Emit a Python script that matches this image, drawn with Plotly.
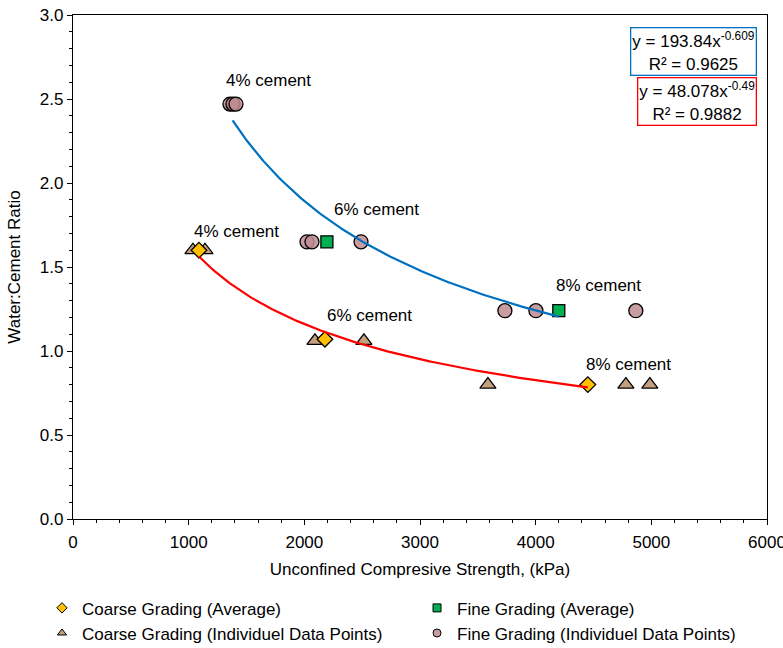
import numpy as np
import plotly.graph_objects as go

# Coarse grading
coarse_avg_x = [1089, 2178, 4451]
coarse_avg_y = [1.60, 1.07, 0.80]
coarse_ind_x = [1037, 1141, 2092, 2515, 3587, 4780, 4987]
coarse_ind_y = [1.60, 1.60, 1.06, 1.06, 0.80, 0.80, 0.80]

# Fine grading
fine_avg_x = [1380, 2195, 4200]
fine_avg_y = [2.47, 1.65, 1.24]
fine_ind_x = [1357, 1383, 1409, 2023, 2066, 2490, 3734, 4002, 4866]
fine_ind_y = [2.47, 2.47, 2.47, 1.65, 1.65, 1.65, 1.24, 1.24, 1.24]

# Power-law trendlines (y = a * x^b) fitted to the averages
fine_fit = (193.84, -0.609, 0.9625)
coarse_fit = (48.078, -0.49, 0.9882)

labels = ["4% cement", "6% cement", "8% cement"]
fine_label_pos = [(1690, 2.61), (2620, 1.845), (4540, 1.39)]
coarse_label_pos = [(1410, 1.71), (2560, 1.21), (4805, 0.92)]

FONT = "Liberation Sans, Arial, sans-serif"
FS = 17
C_DIAMOND = "#FFC000"
C_SQUARE = "#00B050"
C_TRI = "#C4A07F"
C_CIRC = "rgba(190,140,145,0.85)"

fig = go.Figure()

def trend(xs, fit):
    a, b, _ = fit
    xx = np.linspace(min(xs), max(xs), 200)
    return xx, a * xx ** b

fx, fy = trend(fine_avg_x, fine_fit)
cx, cy = trend(coarse_avg_x, coarse_fit)

line_w = dict(width=2.2)
fig.add_trace(go.Scatter(x=fine_avg_x, y=fine_avg_y, mode="markers", showlegend=False,
                         marker=dict(symbol="square", size=12, color=C_SQUARE,
                                     line=dict(color="black", width=1.3))))
fig.add_trace(go.Scatter(x=coarse_ind_x, y=coarse_ind_y, mode="markers", showlegend=False,
                         marker=dict(symbol="triangle-up", size=14, color=C_TRI,
                                     line=dict(color="black", width=1.3))))
fig.add_trace(go.Scatter(x=coarse_avg_x, y=coarse_avg_y, mode="markers", showlegend=False,
                         marker=dict(symbol="diamond", size=12, color=C_DIAMOND,
                                     line=dict(color="black", width=1.3))))
fig.add_trace(go.Scatter(x=fine_ind_x, y=fine_ind_y, mode="markers", showlegend=False,
                         marker=dict(symbol="circle", size=14, color=C_CIRC,
                                     line=dict(color="black", width=1.3))))
fig.add_trace(go.Scatter(x=fx, y=fy, mode="lines", showlegend=False,
                         line=dict(color="#0070C0", **line_w), hoverinfo="skip"))
fig.add_trace(go.Scatter(x=cx, y=cy, mode="lines", showlegend=False,
                         line=dict(color="#FF0000", **line_w), hoverinfo="skip"))

# Legend entries: coarse grading in the left column, fine grading in the right
legend_items = [
    ("Coarse Grading (Average)", "diamond", C_DIAMOND, "legend"),
    ("Coarse Grading (Individuel Data Points)", "triangle-up", C_TRI, "legend"),
    ("Fine Grading (Average)", "square", C_SQUARE, "legend2"),
    ("Fine Grading (Individuel Data Points)", "circle", C_CIRC, "legend2"),
]
for name, sym, col, leg in legend_items:
    fig.add_trace(go.Scatter(x=[None], y=[None], mode="markers", name=name, legend=leg,
                             marker=dict(symbol=sym, size=8, color=col,
                                         line=dict(color="black", width=1))))

annotations = []
for txt, (x, y) in zip(labels, fine_label_pos):
    annotations.append(dict(x=x, y=y, text=txt, showarrow=False,
                            font=dict(family=FONT, size=FS, color="black")))
for txt, (x, y) in zip(labels, coarse_label_pos):
    annotations.append(dict(x=x, y=y, text=txt, showarrow=False,
                            font=dict(family=FONT, size=FS, color="black")))

def eq_text(fit):
    a, b, r2 = fit
    return f"y = {a:g}x<sup>{b:g}</sup><br>R² = {r2:.4f}"

annotations.append(dict(xref="paper", yref="paper", x=0.9856, y=0.976, xanchor="right", yanchor="top",
                        text=eq_text(fine_fit), showarrow=False, align="center",
                        bordercolor="#0070C0", borderwidth=1.3, borderpad=1, bgcolor="white",
                        font=dict(family=FONT, size=17, color="black")))
annotations.append(dict(xref="paper", yref="paper", x=0.9856, y=0.877, xanchor="right", yanchor="top",
                        text=eq_text(coarse_fit), showarrow=False, align="center",
                        bordercolor="#FF0000", borderwidth=1.3, borderpad=1, bgcolor="white",
                        font=dict(family=FONT, size=17, color="black")))

axis_common = dict(showgrid=False, zeroline=False, showline=True, linecolor="black",
                   linewidth=1.3, mirror=True, ticks="outside", ticklen=5, tickwidth=1.3,
                   tickcolor="black", tickfont=dict(family=FONT, size=FS, color="black"),
                   automargin=False, ticklabeloverflow="allow")

# Each column is a horizontal legend whose entry width forces one entry per row
legend_common = dict(orientation="h", xref="container", yref="container",
                     yanchor="top", xanchor="left", itemwidth=30, tracegroupgap=0,
                     entrywidth=310, entrywidthmode="pixels",
                     font=dict(family=FONT, size=FS, color="black"),
                     bgcolor="rgba(0,0,0,0)")

fig.update_layout(
    width=783, height=648,
    margin=dict(l=73, r=16, t=15, b=129),
    paper_bgcolor="white", plot_bgcolor="white",
    font=dict(family=FONT, size=FS, color="black"),
    xaxis=dict(range=[0, 6000], dtick=1000, tickformat="d", ticklabelstandoff=2,
               minor=dict(dtick=200, ticks="outside", ticklen=3, tickcolor="black", tickwidth=1.3),
               title=dict(text="Unconfined Compresive Strength, (kPa)",
                          font=dict(family=FONT, size=FS), standoff=12),
               **axis_common),
    yaxis=dict(range=[0, 3.0], dtick=0.5, tickformat=".1f",
               minor=dict(dtick=0.1, ticks="outside", ticklen=3, tickcolor="black", tickwidth=1.3),
               title=dict(text="Water:Cement Ratio", font=dict(family=FONT, size=FS), standoff=14),
               **axis_common),
    legend=dict(x=0.0536, y=0.089, **legend_common),
    legend2=dict(x=0.5326, y=0.089, **legend_common),
    annotations=annotations,
    showlegend=True,
)

fig.write_html("out.html")
